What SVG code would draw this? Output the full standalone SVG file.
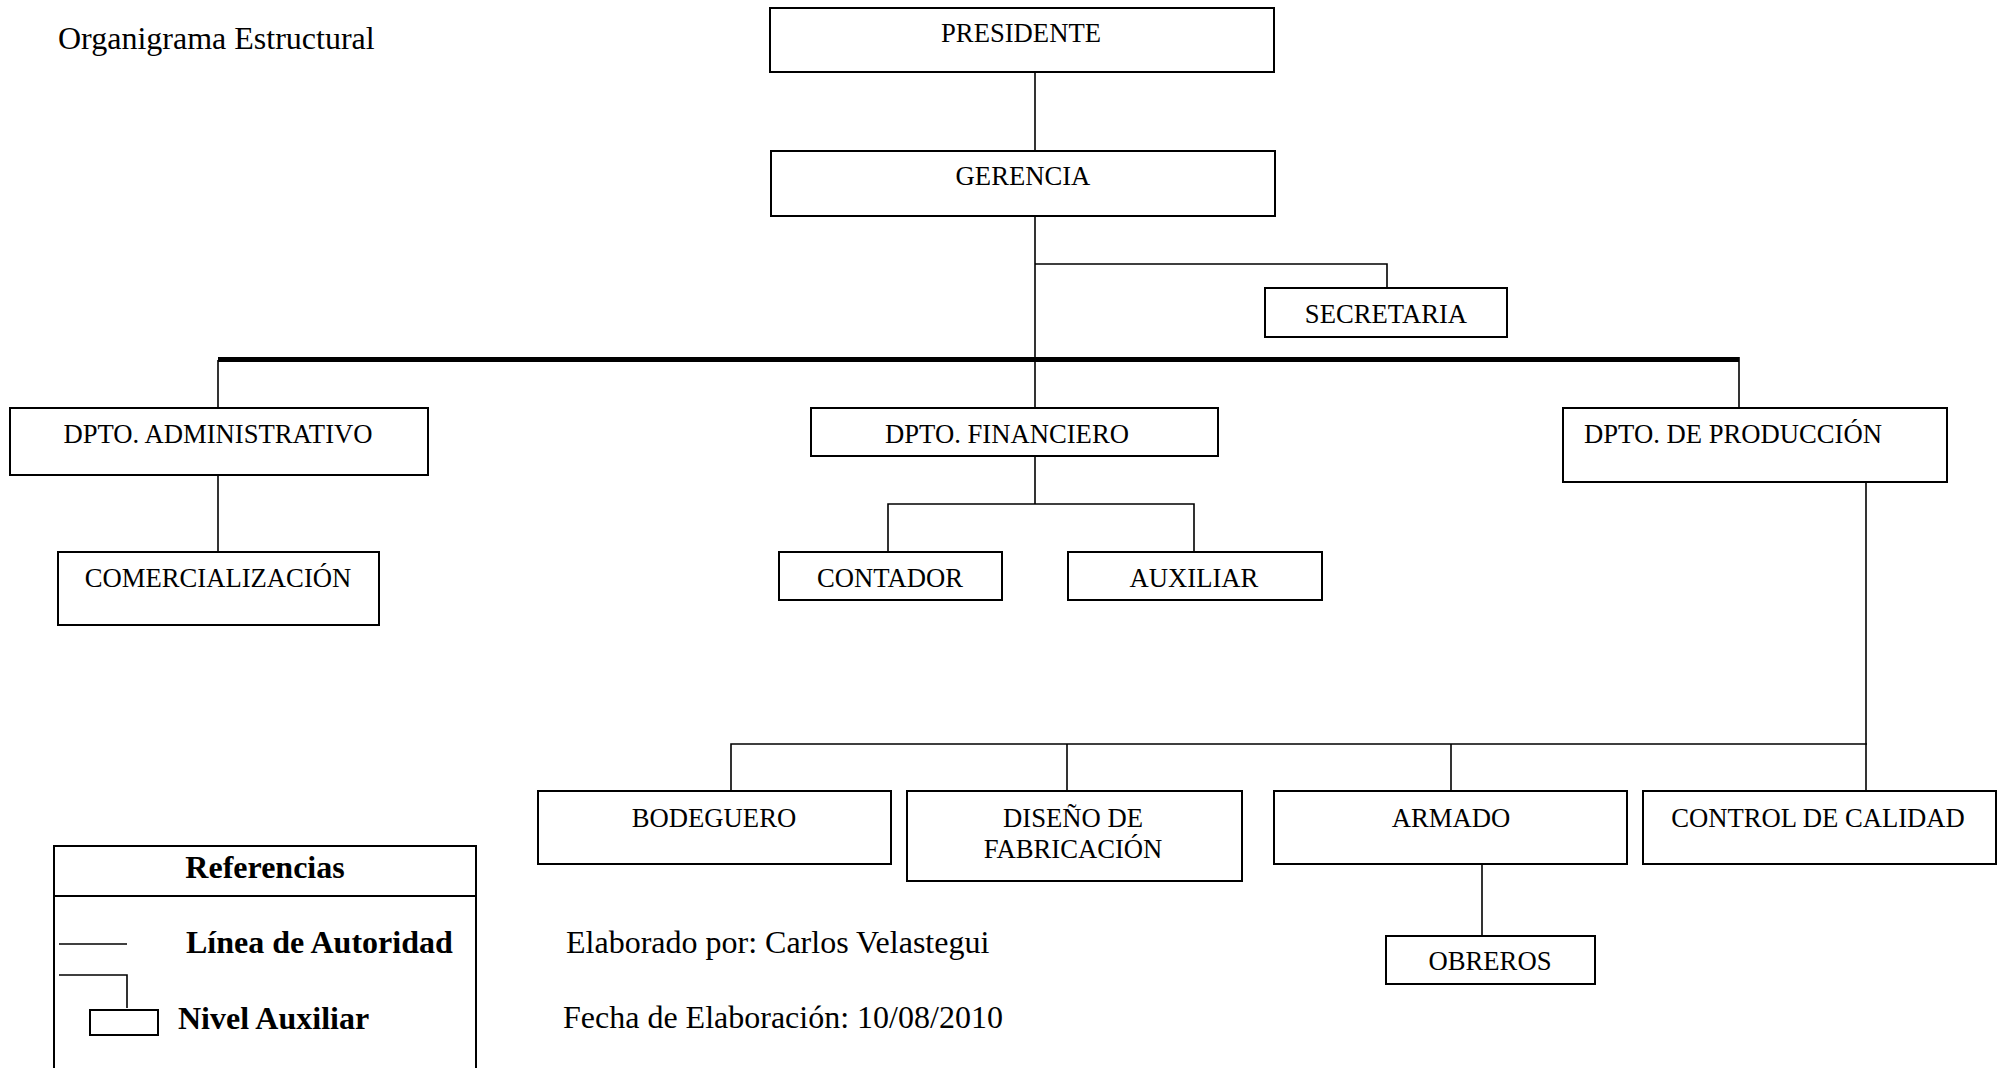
<svg xmlns="http://www.w3.org/2000/svg" width="2002" height="1068" viewBox="0 0 2002 1068">
<style>
.box{fill:#fff;stroke:#000;stroke-width:2}
.ln{fill:none;stroke:#000;stroke-width:1.6}
.thick{fill:none;stroke:#000;stroke-width:5}
.t{font-family:"Liberation Serif","Times New Roman",serif;font-size:26.67px;fill:#000;text-anchor:middle}
.tl{font-family:"Liberation Serif","Times New Roman",serif;font-size:26.67px;fill:#000}
.big{font-family:"Liberation Serif","Times New Roman",serif;font-size:32px;fill:#000}
.bold{font-family:"Liberation Serif","Times New Roman",serif;font-size:32px;font-weight:bold;fill:#000}
</style>
<rect width="2002" height="1068" fill="#fff"/>
<text class="big" x="58" y="49">Organigrama Estructural</text>
<g id="connectors">
<line class="ln" x1="1035" y1="72" x2="1035" y2="151"/>
<line class="ln" x1="1035" y1="216" x2="1035" y2="408"/>
<polyline class="ln" points="1035,264 1387,264 1387,288"/>
<line class="thick" x1="218" y1="359.5" x2="1739" y2="359.5"/>
<line class="ln" x1="218" y1="360" x2="218" y2="408"/>
<line class="ln" x1="1739" y1="357" x2="1739" y2="408"/>
<line class="ln" x1="218" y1="475" x2="218" y2="552"/>
<line class="ln" x1="1035" y1="456" x2="1035" y2="504"/>
<polyline class="ln" points="888,552 888,504 1194,504 1194,552"/>
<line class="ln" x1="1866" y1="478" x2="1866" y2="744"/>
<polyline class="ln" points="731,791 731,744 1867,744"/>
<line class="ln" x1="1067" y1="744" x2="1067" y2="791"/>
<line class="ln" x1="1451" y1="744" x2="1451" y2="791"/>
<line class="ln" x1="1866" y1="744" x2="1866" y2="791"/>
<line class="ln" x1="1482" y1="864" x2="1482" y2="936"/>
</g>
<g id="presidente"><rect class="box" x="770" y="8" width="504" height="64"/><text class="t" x="1021" y="42">PRESIDENTE</text></g>
<g id="gerencia"><rect class="box" x="771" y="151" width="504" height="65"/><text class="t" x="1023" y="185">GERENCIA</text></g>
<g id="secretaria"><rect class="box" x="1265" y="288" width="242" height="49"/><text class="t" x="1386" y="323">SECRETARIA</text></g>
<g id="dpto-admin"><rect class="box" x="10" y="408" width="418" height="67"/><text class="t" x="218" y="443">DPTO. ADMINISTRATIVO</text></g>
<g id="dpto-fin"><rect class="box" x="811" y="408" width="407" height="48"/><text class="t" x="1007" y="443">DPTO. FINANCIERO</text></g>
<g id="dpto-prod"><rect class="box" x="1563" y="408" width="384" height="74"/><text class="tl" x="1584" y="443">DPTO. DE PRODUCCIÓN</text></g>
<g id="comercializacion"><rect class="box" x="58" y="552" width="321" height="73"/><text class="t" x="218" y="587">COMERCIALIZACIÓN</text></g>
<g id="contador"><rect class="box" x="779" y="552" width="223" height="48"/><text class="t" x="890" y="587">CONTADOR</text></g>
<g id="auxiliar"><rect class="box" x="1068" y="552" width="254" height="48"/><text class="t" x="1194" y="587">AUXILIAR</text></g>
<g id="bodeguero"><rect class="box" x="538" y="791" width="353" height="73"/><text class="t" x="714" y="827">BODEGUERO</text></g>
<g id="diseno"><rect class="box" x="907" y="791" width="335" height="90"/><text class="t" x="1073" y="827">DISEÑO DE</text><text class="t" x="1073" y="858">FABRICACIÓN</text></g>
<g id="armado"><rect class="box" x="1274" y="791" width="353" height="73"/><text class="t" x="1451" y="827">ARMADO</text></g>
<g id="control"><rect class="box" x="1643" y="791" width="353" height="73"/><text class="t" x="1818" y="827">CONTROL DE CALIDAD</text></g>
<g id="obreros"><rect class="box" x="1386" y="936" width="209" height="48"/><text class="t" x="1490" y="970">OBREROS</text></g>
<g id="legend">
<polyline class="box" fill="none" style="fill:none" points="54,1070 54,846 476,846 476,1070"/>
<line class="box" x1="54" y1="896" x2="476" y2="896"/>
<text class="bold" x="265" y="878" text-anchor="middle">Referencias</text>
<line class="ln" x1="59" y1="944" x2="127" y2="944"/>
<text class="bold" x="186" y="953">Línea de Autoridad</text>
<polyline class="ln" points="59,975 127,975 127,1008"/>
<rect class="box" x="90" y="1010" width="68" height="25"/>
<text class="bold" x="178" y="1029">Nivel Auxiliar</text>
</g>
<text class="big" x="566" y="953">Elaborado por: Carlos Velastegui</text>
<text class="big" x="563" y="1028">Fecha de Elaboración: 10/08/2010</text>
</svg>
